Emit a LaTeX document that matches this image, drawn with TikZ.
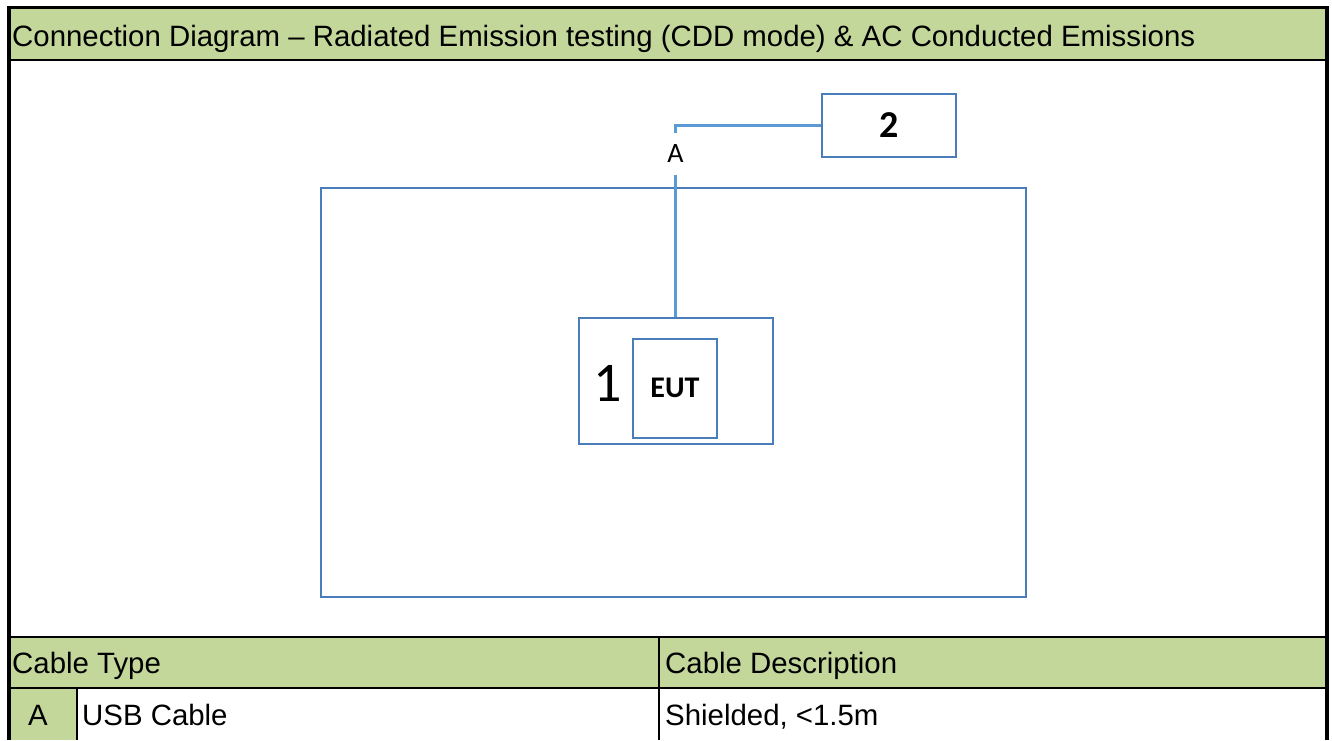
\documentclass[tikz,border=0pt]{standalone}
\usepackage{fontspec}
\setmainfont{Liberation Sans}
\newfontfamily\calfont{Carlito}
\definecolor{hdrgreen}{HTML}{C4D79B}
\definecolor{boxblue}{HTML}{4A7EBB}
\definecolor{cableblue}{HTML}{5B9BD5}
\begin{document}
\begin{tikzpicture}[x=1pt,y=-1pt,
  bluebox/.style={draw=boxblue, line width=2pt, inner sep=0pt},
  cable/.style={draw=cableblue, line width=2.5pt},
  celltext/.style={font=\fontsize{29.4}{32}\selectfont, anchor=base west, inner sep=0pt},
  frameline/.style={draw=black, line width=3.5pt},
  gridline/.style={draw=black, line width=2.5pt}]
\useasboundingbox (0,0) rectangle (1332,740);
% green fills
\fill[hdrgreen] (9,8) rectangle (1327,60);
\fill[hdrgreen] (9,637) rectangle (1327,688);
\fill[hdrgreen] (9,688) rectangle (77,740);
% table lines
\draw[gridline] (9,60) -- (1327,60);
\draw[gridline] (9,637) -- (1327,637);
\draw[gridline] (9,688) -- (1327,688);
\draw[gridline, line width=2pt] (77,688) -- (77,740);
\draw[gridline, line width=2pt] (659,637) -- (659,740);
\draw[frameline] (9,740) -- (9,7.5) -- (1327,7.5) -- (1327,740);
% texts of the table
\node[celltext] (title) at (12,46) {Connection Diagram – Radiated Emission testing (CDD mode) \& AC Conducted Emissions};
\node[celltext] (ctype) at (12,673) {Cable Type};
\node[celltext] (cdesc) at (665,673) {Cable Description};
\node[celltext] (rowA) at (28,725.5) {A};
\node[celltext] (usb) at (82,725.5) {USB Cable};
\node[celltext] (shield) at (665,725.5) {Shielded, <1.5m};
% diagram
\node[bluebox, minimum width=705pt, minimum height=409pt] (area) at (673.5,392.5) {};
\node[bluebox, minimum width=134pt, minimum height=63pt, font=\calfont\bfseries\fontsize{38}{40}\selectfont] (dev2) at (889,125.5) {2};
\node[bluebox, minimum width=194pt, minimum height=126pt] (outer) at (675.5,381) {};
\node[bluebox, minimum width=84pt, minimum height=99pt, font=\calfont\bfseries\fontsize{30}{32}\selectfont] (eut) at (675,388) {EUT};
\node[inner sep=0pt, font=\calfont\fontsize{56}{58}\selectfont] (one) at (608,383) {1};
\node[inner sep=0pt, minimum height=42pt, font=\calfont\fontsize{28}{30}\selectfont] (cabA) at (675.5,154) {A};
\draw[cable] (dev2.west) -| (cabA.north);
\draw[cable] (cabA.south) -- (outer.north);
\end{tikzpicture}
\end{document}
